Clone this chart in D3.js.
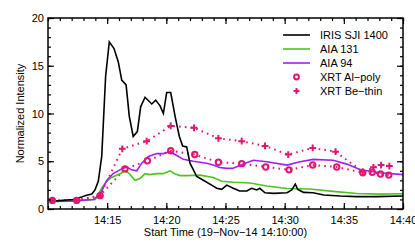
<!DOCTYPE html>
<html>
<head>
<meta charset="utf-8">
<script src="https://cdn.jsdelivr.net/npm/d3@7"></script>
<style>
  body { margin: 0; background: #fff; }
  svg { display: block; font-family: "Liberation Sans", Arial, Helvetica, sans-serif; }
</style>
</head>
<body>
<div id="container"></div>
<script>
// minutes after 14:10:00 UT, normalized intensity
const iris = [
  [0.2, 0.85], [1.0, 0.88], [2.1, 1.0], [2.85, 1.25], [3.27, 1.45], [3.7, 1.57], [3.97, 2.0],
  [4.25, 2.9], [4.54, 5.5], [4.87, 13.9], [5.18, 17.5], [5.58, 16.8], [5.94, 15.4],
  [6.23, 13.5], [6.6, 13.0], [6.87, 9.7], [7.2, 7.6], [7.55, 8.1], [7.83, 10.7],
  [8.2, 11.7], [8.77, 11.0], [9.1, 11.4], [9.47, 10.8], [9.75, 10.0], [10.03, 12.2],
  [10.37, 12.2], [10.74, 9.7], [11.1, 7.6], [11.38, 6.6], [11.72, 6.5], [12.0, 4.8],
  [12.57, 3.4], [13.27, 2.9], [13.97, 2.4], [14.26, 2.17], [14.68, 2.06], [15.1, 2.5],
  [15.66, 2.17], [16.2, 1.88], [16.8, 1.88], [17.2, 2.17], [17.64, 2.0], [17.9, 2.17],
  [18.34, 1.7], [19.05, 1.64], [20.2, 1.7], [20.6, 2.0], [20.9, 2.6], [21.1, 2.06],
  [21.6, 1.74], [22.4, 1.7], [23.3, 1.47], [24.7, 1.36], [26.1, 1.3], [27.8, 1.3], [30, 1.36]
];
const aia131 = [
  [0.2, 0.8], [2.0, 0.82], [4.0, 1.0], [4.54, 2.2], [4.96, 2.9], [5.38, 3.3], [6.09, 3.7],
  [6.5, 4.0], [6.87, 3.7], [7.35, 3.0], [7.78, 3.2], [8.2, 3.7], [8.6, 3.6], [9.19, 3.7],
  [9.75, 3.7], [10.3, 4.0], [10.7, 3.7], [11.16, 3.5], [11.72, 3.5], [12.85, 3.55],
  [13.97, 3.3], [14.68, 2.9], [15.66, 2.8], [17.07, 2.73], [18.5, 2.4], [20.2, 2.15],
  [22.1, 2.1], [24.1, 1.85], [26.1, 1.62], [28.06, 1.56], [30, 1.6]
];
const aia94 = [
  [0.2, 0.8], [2.0, 0.85], [3.83, 1.0], [4.4, 1.5], [4.96, 3.0], [5.5, 3.7], [6.23, 4.2],
  [6.65, 4.4], [7.07, 4.1], [7.5, 4.0], [7.92, 4.8], [8.48, 5.5], [9.19, 5.8], [9.75, 5.8],
  [10.3, 6.0], [10.88, 5.6], [11.44, 5.2], [12.28, 5.0], [12.85, 4.9], [13.41, 4.8],
  [13.97, 4.6], [14.5, 4.35], [15.1, 4.25], [15.6, 4.25], [16.5, 4.7], [17.35, 5.1],
  [18.5, 4.95], [20.2, 4.6], [21.3, 4.95], [22.4, 5.2], [24.1, 5.1], [25.25, 4.7],
  [26.4, 4.1], [28.06, 3.8], [30, 3.6]
];
const xrtAlPoly = [
  [0.37, 0.9], [2.42, 0.9], [4.4, 1.4], [6.5, 4.2], [8.4, 5.05], [10.37, 6.1], [12.4, 5.7],
  [14.4, 4.9], [16.37, 4.75], [18.4, 4.4], [20.37, 4.1], [22.37, 4.6], [24.4, 4.4],
  [26.6, 3.8], [27.4, 3.85], [28.1, 3.66], [28.8, 3.55]
];
const xrtBeThin = [
  [0.37, 0.9], [2.42, 0.9], [4.4, 1.4], [6.28, 6.3], [8.34, 7.1], [10.37, 8.7], [12.34, 8.5],
  [14.4, 7.4], [16.37, 7.1], [18.34, 6.6], [20.3, 5.7], [22.37, 6.4], [24.3, 6.0],
  [26.6, 3.9], [27.5, 4.36], [28.15, 4.6], [28.85, 4.5]
];
const seriesNames = ["IRIS SJI 1400", "AIA 131", "AIA 94", "XRT Al\u2212poly", "XRT Be\u2212thin"];
const yTicks = [0, 5, 10, 15, 20];

const W = 415, H = 248;
const margin = { top: 18, right: 12, bottom: 39, left: 48 };
const pink = "#e3166f";
const t0 = Date.UTC(2014, 10, 19, 14, 10, 0);
const toDate = m => new Date(t0 + m * 60000);

const svg = d3.select("#container").append("svg").attr("width", W).attr("height", H);

const x = d3.scaleUtc()
  .domain([toDate(0), toDate(30)])
  .range([margin.left, W - margin.right]);
const y = d3.scaleLinear().domain([0, 20]).range([H - margin.bottom, margin.top]);

const plot = svg.append("g");
plot.append("clipPath").attr("id", "clip")
  .append("rect")
  .attr("x", margin.left).attr("y", margin.top)
  .attr("width", W - margin.left - margin.right)
  .attr("height", H - margin.top - margin.bottom);

const line = d3.line().x(d => x(toDate(d[0]))).y(d => y(d[1]));

const g = plot.append("g").attr("clip-path", "url(#clip)");

g.append("path").datum(xrtBeThin).attr("d", line)
  .attr("fill", "none").attr("stroke", pink).attr("stroke-width", 2)
  .attr("stroke-dasharray", "1.6,4.2");
g.append("path").datum(xrtAlPoly).attr("d", line)
  .attr("fill", "none").attr("stroke", pink).attr("stroke-width", 2)
  .attr("stroke-dasharray", "1.6,4.2");

g.append("path").datum(aia131).attr("d", line)
  .attr("fill", "none").attr("stroke", "#4fc31d").attr("stroke-width", 1.6);
g.append("path").datum(aia94).attr("d", line)
  .attr("fill", "none").attr("stroke", "#a11ff2").attr("stroke-width", 1.6);
g.append("path").datum(iris).attr("d", line)
  .attr("fill", "none").attr("stroke", "#000").attr("stroke-width", 1.6);

// markers
function drawPlus(sel, size) {
  sel.append("path")
    .attr("d", `M${-size},0H${size}M0,${-size}V${size}`)
    .attr("stroke", pink).attr("stroke-width", 2).attr("fill", "none");
}
g.selectAll(".be").data(xrtBeThin).join("g")
  .attr("transform", d => `translate(${x(toDate(d[0]))},${y(d[1])})`)
  .call(drawPlus, 3.4);
g.selectAll(".al").data(xrtAlPoly).join("circle")
  .attr("cx", d => x(toDate(d[0]))).attr("cy", d => y(d[1]))
  .attr("r", 2.7).attr("fill", "none").attr("stroke", pink).attr("stroke-width", 2);

// axes
const fmt = d3.utcFormat("%H:%M");
const majorX = d3.utcMinute.every(5).range(toDate(5), toDate(30.01));
const minorX = d3.utcMinute.every(1).range(toDate(0), toDate(30.01));
const minorY = d3.range(0, 21, 1);

function styleAxis(sel) {
  sel.select(".domain").remove();
  sel.selectAll("line").attr("stroke", "#000").attr("stroke-width", 1.2);
  sel.selectAll("text").attr("font-size", 11).attr("fill", "#000")
    .attr("font-family", '"Liberation Sans", Arial, sans-serif');
}

const bottomY = H - margin.bottom, topY = margin.top;
svg.append("g").attr("transform", `translate(0,${bottomY})`)
  .call(d3.axisBottom(x).tickValues(minorX).tickSize(-3).tickFormat(""))
  .call(styleAxis);
svg.append("g").attr("transform", `translate(0,${bottomY})`)
  .call(d3.axisBottom(x).tickValues(majorX).tickSize(-6).tickPadding(7).tickFormat(fmt))
  .call(styleAxis);
svg.append("g").attr("transform", `translate(0,${topY})`)
  .call(d3.axisTop(x).tickValues(minorX).tickSize(-3).tickFormat(""))
  .call(styleAxis);
svg.append("g").attr("transform", `translate(0,${topY})`)
  .call(d3.axisTop(x).tickValues(majorX).tickSize(-6).tickFormat(""))
  .call(styleAxis);

const leftX = margin.left, rightX = W - margin.right;
svg.append("g").attr("transform", `translate(${leftX},0)`)
  .call(d3.axisLeft(y).tickValues(minorY).tickSize(-3).tickFormat(""))
  .call(styleAxis);
svg.append("g").attr("transform", `translate(${leftX},0)`)
  .call(d3.axisLeft(y).tickValues(yTicks).tickSize(-6).tickPadding(4).tickFormat(d3.format("d")))
  .call(styleAxis);
svg.append("g").attr("transform", `translate(${rightX},0)`)
  .call(d3.axisRight(y).tickValues(minorY).tickSize(-3).tickFormat(""))
  .call(styleAxis);
svg.append("g").attr("transform", `translate(${rightX},0)`)
  .call(d3.axisRight(y).tickValues(yTicks).tickSize(-6).tickFormat(""))
  .call(styleAxis);

// frame
svg.append("rect")
  .attr("x", leftX).attr("y", topY)
  .attr("width", rightX - leftX).attr("height", bottomY - topY)
  .attr("fill", "none").attr("stroke", "#000").attr("stroke-width", 1.5);

// titles
svg.append("text")
  .attr("x", (leftX + rightX) / 2).attr("y", 236)
  .attr("text-anchor", "middle").attr("font-size", 11)
  .text("Start Time (19\u2212Nov\u221214 14:10:00)");
svg.append("text")
  .attr("transform", `translate(24,${(topY + bottomY) / 2}) rotate(-90)`)
  .attr("text-anchor", "middle").attr("font-size", 11)
  .text("Normalized Intensity");

// legend
const legend = svg.append("g").attr("font-size", 11);
const legendColors = ["#000", "#4fc31d", "#a11ff2"];
seriesNames.forEach((name, i) => {
  const ly = 35 + i * 14;
  const row = legend.append("g").attr("transform", `translate(0,${ly})`);
  if (i < 3) {
    row.append("line").attr("x1", 283).attr("x2", 310)
      .attr("stroke", legendColors[i]).attr("stroke-width", 1.6);
  } else if (i === 3) {
    row.append("circle").attr("cx", 296.5).attr("r", 2.4)
      .attr("fill", "none").attr("stroke", pink).attr("stroke-width", 2);
  } else {
    row.append("g").attr("transform", "translate(296.5,0)").call(drawPlus, 3);
  }
  row.append("text").attr("x", 320).attr("dy", "0.36em").text(name);
});
</script>
</body>
</html>
